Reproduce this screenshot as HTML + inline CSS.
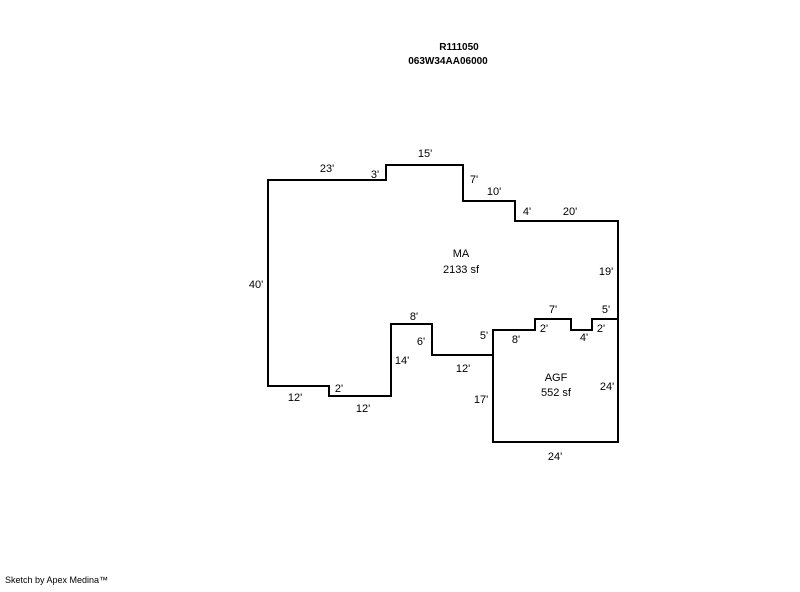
<!DOCTYPE html>
<html><head><style>
body{margin:0;background:#fff;}
svg text{font-family:"Liberation Sans",Arial,sans-serif;font-size:11px;fill:#000;}
</style></head><body>
<svg width="800" height="587" xmlns="http://www.w3.org/2000/svg">
<text x="459" y="50" text-anchor="middle" font-weight="bold" style="font-size:10px">R111050</text>
<text x="448" y="64" text-anchor="middle" font-weight="bold" style="font-size:10px">063W34AA06000</text>
<g fill="none" stroke="#000" stroke-width="2">
<polygon points="268,180 386,180 386,165 463,165 463,201 515,201 515,221 618,221 618,319 592,319 592,330 571,330 571,319 535,319 535,330 493,330 493,355 432,355 432,324 391,324 391,396 329,396 329,386 268,386"/>
<polyline points="493,355 493,442 618,442 618,319"/>
</g>
<text x="327" y="172" text-anchor="middle">23'</text>
<text x="375" y="178" text-anchor="middle">3'</text>
<text x="425" y="157" text-anchor="middle">15'</text>
<text x="474" y="183" text-anchor="middle">7'</text>
<text x="494" y="195" text-anchor="middle">10'</text>
<text x="527" y="215" text-anchor="middle">4'</text>
<text x="570" y="215" text-anchor="middle">20'</text>
<text x="606" y="275" text-anchor="middle">19'</text>
<text x="256" y="288" text-anchor="middle">40'</text>
<text x="461" y="257" text-anchor="middle">MA</text>
<text x="461" y="273" text-anchor="middle">2133 sf</text>
<text x="414" y="320" text-anchor="middle">8'</text>
<text x="421" y="345" text-anchor="middle">6'</text>
<text x="484" y="339" text-anchor="middle">5'</text>
<text x="402" y="364" text-anchor="middle">14'</text>
<text x="463" y="372" text-anchor="middle">12'</text>
<text x="339" y="392" text-anchor="middle">2'</text>
<text x="295" y="401" text-anchor="middle">12'</text>
<text x="363" y="412" text-anchor="middle">12'</text>
<text x="553" y="313" text-anchor="middle">7'</text>
<text x="606" y="313" text-anchor="middle">5'</text>
<text x="544" y="332" text-anchor="middle">2'</text>
<text x="601" y="332" text-anchor="middle">2'</text>
<text x="516" y="343" text-anchor="middle">8'</text>
<text x="584" y="341" text-anchor="middle">4'</text>
<text x="556" y="381" text-anchor="middle">AGF</text>
<text x="556" y="396" text-anchor="middle">552 sf</text>
<text x="607" y="390" text-anchor="middle">24'</text>
<text x="481" y="403" text-anchor="middle">17'</text>
<text x="555" y="460" text-anchor="middle">24'</text>
<text x="5" y="583" style="font-size:9px">Sketch by Apex Medina™</text>
</svg>
</body></html>
